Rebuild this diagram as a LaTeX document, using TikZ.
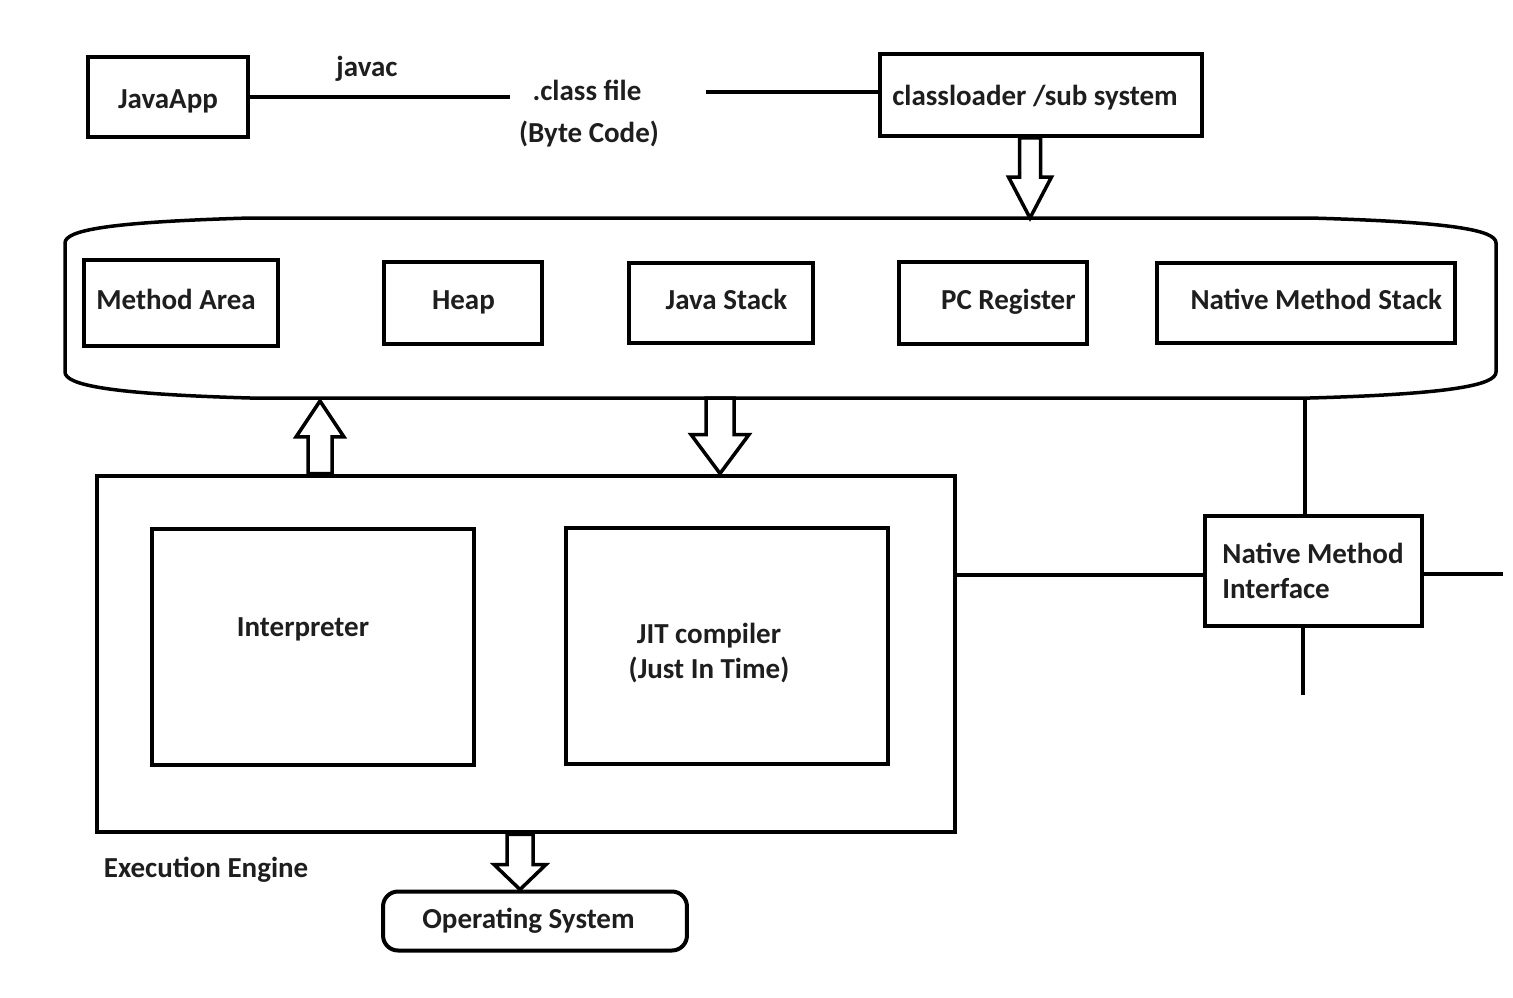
\documentclass[tikz,border=0pt]{standalone}
\usepackage{fontspec}
\setmainfont{Carlito}
\usetikzlibrary{calc,positioning}
\definecolor{txt}{HTML}{1E1E1E}

% hollow block arrow: from, to, shaft half width, head half width, head length
\newcommand{\fatarrow}[5]{%
  \coordinate (fa-h) at ($(#2)!#5!(#1)$);
  \draw[fat] ($(#1)!#3!90:(#2)$) -- ($(fa-h)!#3!90:(#2)$) -- ($(fa-h)!#4!90:(#2)$)
    -- (#2) -- ($(fa-h)!#4!-90:(#2)$) -- ($(fa-h)!#3!-90:(#2)$) -- ($(#1)!#3!-90:(#2)$) -- cycle;
}

\begin{document}
\begin{tikzpicture}[x=0.02cm,y=-0.02cm,line width=0.08cm,
                    font=\fontsize{16.5}{20}\selectfont\bfseries,text=txt]
  \tikzstyle{block}=[rectangle,draw=black,fill=white,inner sep=2pt]
  \tikzstyle{oneline}=[text height=0.8em,text depth=0.1em]
  \tikzstyle{fat}=[draw=black,fill=white,line width=0.07cm]
  \useasboundingbox (0,0) rectangle (1513,997);

  % compile step
  \node[block,oneline,minimum width=3.2cm,minimum height=1.6cm,
        label={[oneline,yshift=-0.1cm]center:JavaApp}] (java) at (168,97) {};
  \node (javac) at (367,69) {javac};
  \node (cls) at (587,90) {.class file};
  \node (bc) at (589,134) {(Byte Code)};
  \node[block,minimum width=6.44cm,minimum height=1.64cm,
        label={[oneline,xshift=-0.12cm,yshift=-0.08cm]center:classloader /sub system}] (loader) at (1041,95) {};
  \coordinate (c-in) at (510,95);
  \coordinate (c-out) at (706,92);

  \draw (java.east) -- (java.east -| c-in);
  \draw (c-out) -- (c-out -| loader.west);

  % runtime data areas
  \coordinate (mem-t) at (0,218);
  \coordinate (mem-b) at (0,398);
  \draw[line width=0.07cm] (65,243) .. controls (65,230) and (110,222) .. (250,218) -- (1310,218)
    .. controls (1451,222) and (1496,230) .. (1496,243) -- (1496,372)
    .. controls (1496,385) and (1451,394) .. (1310,398) -- (250,398)
    .. controls (110,394) and (65,385) .. (65,372) -- cycle;

  \node[block,oneline,minimum width=3.9cm,minimum height=1.72cm,
        label={[oneline,xshift=-0.1cm]center:Method Area}] (ma) at (181,303) {};
  \node[block,oneline,minimum width=3.16cm,minimum height=1.64cm,right=2.04cm of ma] (heap) {Heap};
  \node[block,oneline,minimum width=3.68cm,minimum height=1.6cm,right=1.66cm of heap,
        label={[oneline,xshift=0.1cm]center:Java Stack}] (js) {};
  \node[block,oneline,minimum width=3.76cm,minimum height=1.64cm,right=1.64cm of js,
        label={[oneline,xshift=0.3cm]center:PC Register}] (pc) {};
  \node[block,oneline,minimum width=5.96cm,minimum height=1.6cm,right=1.32cm of pc,
        label={[oneline,xshift=0.2cm]center:Native Method Stack}] (nms) {};

  % execution engine
  \node[block,minimum width=17.16cm,minimum height=7.14cm] (eng) at (526,654) {};
  \node[block,minimum width=6.44cm,minimum height=4.72cm,
        label={[oneline,xshift=-0.2cm,yshift=0.34cm]center:Interpreter}] (interp) at (313,647) {};
  \node[block,minimum width=6.44cm,minimum height=4.72cm,
        label={[align=center,xshift=-0.36cm,yshift=-0.14cm]center:JIT compiler\\(Just In Time)}] (jit) at (727,646) {};
  \node[anchor=west] (englabel) at (96,870) {Execution Engine};

  \node[block,rounded corners=0.3cm,minimum width=6.08cm,minimum height=1.18cm,
        label={[oneline,xshift=-0.13cm,yshift=-0.03cm]center:Operating System}] (os) at (535,921) {};

  \node[block,minimum width=4.34cm,minimum height=2.2cm,align=left] (nmi) at (1313,571) {Native Method\\Interface};
  \coordinate (m-out) at (1305,398);
  \coordinate (nmi-r) at (1503,574);
  \coordinate (nmi-d) at (1303,695);

  \draw (m-out) -- (m-out |- nmi.north);
  \draw (eng.east |- 0,575) -- (nmi.west |- 0,575);
  \draw (nmi.east |- nmi-r) -- (nmi-r);
  \draw (nmi-d |- nmi.south) -- (nmi-d);

  % block arrows
  \coordinate (a1s) at ($(loader.south)+(-11,0)$);
  \coordinate (a1e) at (a1s |- mem-t);
  \coordinate (a2s) at ($(eng.north)+(-206,0)$);
  \coordinate (a2e) at ($(a2s |- mem-b)+(0,3)$);
  \coordinate (a3s) at ($(mem-b)+(720,0)$);
  \coordinate (a3e) at (a3s |- eng.north);
  \coordinate (a4s) at ($(eng.south)+(-6,0)$);
  \coordinate (a4e) at (a4s |- os.north);

  \fatarrow{a1s}{a1e}{0.21cm}{0.43cm}{0.82cm}
  \fatarrow{a2s}{a2e}{0.24cm}{0.48cm}{0.72cm}
  \fatarrow{a3s}{a3e}{0.28cm}{0.58cm}{0.78cm}
  \fatarrow{a4s}{a4e}{0.26cm}{0.52cm}{0.5cm}

\end{tikzpicture}
\end{document}
